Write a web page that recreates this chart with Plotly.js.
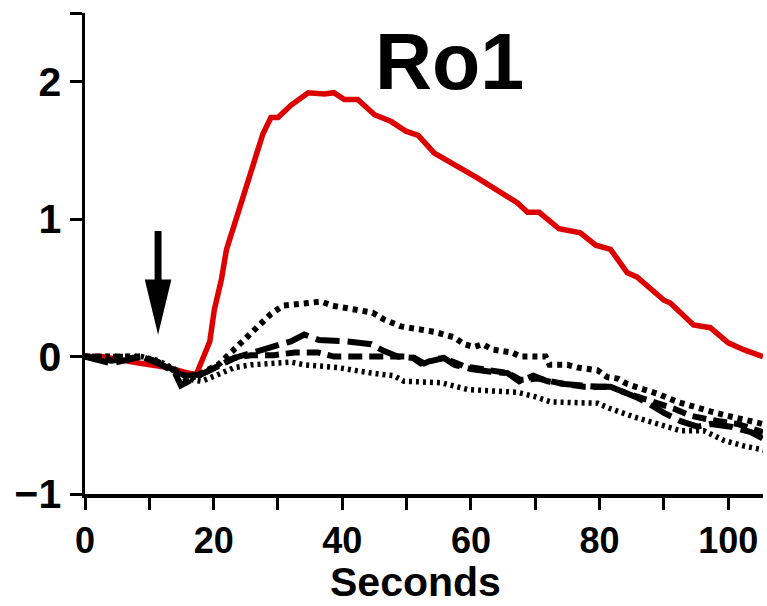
<!DOCTYPE html>
<html>
<head>
<meta charset="utf-8">
<script src="https://cdn.plot.ly/plotly-3.0.1.min.js"></script>
<style>html,body{margin:0;padding:0;background:#fff;}#chart{width:767px;height:606px;}</style>
</head>
<body>
<div id="chart"></div>
<script>
// Red trace (Ro1 response)
var redX = [0, 2.6, 8.8, 13, 16, 17.3, 19.4, 20.1, 21.2, 22.0, 24.3, 25.8, 27.65, 28.9, 30.0, 32.05, 34.7, 37.2, 38.7, 40.3, 42.4, 45.0, 47.6, 49.9, 51.8, 54.3, 61.0, 67.2, 68.8, 70.6, 73.7, 77.0, 79.4, 81.7, 84.3, 85.8, 90.0, 91.0, 94.6, 97.2, 100.0, 102.4, 105.4];
var redY = [0, 0, -0.05, -0.08, -0.12, -0.13, 0.11, 0.34, 0.56, 0.78, 1.12, 1.33, 1.62, 1.74, 1.74, 1.83, 1.92, 1.91, 1.92, 1.87, 1.87, 1.76, 1.71, 1.64, 1.61, 1.48, 1.30, 1.12, 1.05, 1.05, 0.93, 0.90, 0.81, 0.78, 0.61, 0.58, 0.41, 0.39, 0.23, 0.21, 0.10, 0.05, 0.0];

// Black dotted (large dots) – highest control
var aX = [0, 4.6, 8.8, 11.9, 14.2, 16.5, 18.9, 20.7, 22.7, 24.3, 25.8, 27.6, 28.9, 30.75, 32.5, 35.4, 36.7, 38.5, 41.6, 44.7, 46.5, 49.1, 54.3, 57.4, 58.9, 60.5, 61.8, 63.4, 66.4, 67.7, 71.6, 72.2, 75.0, 76.6, 79.7, 81.2, 82.8, 84.3, 86.9, 89.0, 92.1, 94.1, 97.3, 99.8, 103.5, 105.3];
var aY = [0, 0, 0, -0.06, -0.11, -0.16, -0.10, -0.06, 0.03, 0.10, 0.16, 0.24, 0.31, 0.37, 0.38, 0.39, 0.40, 0.37, 0.34, 0.32, 0.27, 0.22, 0.18, 0.14, 0.09, 0.07, 0.09, 0.05, 0.03, 0.0, 0.0, -0.06, -0.06, -0.08, -0.10, -0.15, -0.16, -0.20, -0.24, -0.27, -0.33, -0.36, -0.40, -0.43, -0.47, -0.49];

// Black long dash
var bX = [0, 4.1, 8.8, 11.4, 13.9, 14.9, 18.1, 20.7, 23.2, 26.9, 32.0, 34.1, 36.4, 40.8, 44.5, 46.5, 48.6, 51.2, 52.7, 54.3, 55.8, 57.4, 60.0, 63.1, 65.7, 67.5, 69.7, 71.9, 74.5, 79.7, 81.7, 83.8, 85.9, 87.9, 90.0, 92.6, 95.2, 97.3, 100.4, 103.5, 105.5];
var bY = [0, -0.05, 0, -0.05, -0.11, -0.21, -0.13, -0.07, -0.01, 0.04, 0.11, 0.16, 0.12, 0.11, 0.09, 0.04, 0.0, -0.01, -0.05, -0.02, -0.01, -0.06, -0.09, -0.11, -0.12, -0.18, -0.14, -0.18, -0.20, -0.22, -0.22, -0.26, -0.30, -0.35, -0.41, -0.47, -0.51, -0.49, -0.51, -0.55, -0.60];

// Black short dash
var cX = [0, 4.1, 8.8, 11.4, 13.9, 15.5, 18.1, 21.7, 23.2, 25.8, 29.4, 32.6, 36.2, 38.7, 46.5, 50.7, 52.2, 55.8, 58.9, 62.6, 65.7, 67.7, 70.4, 74.5, 77.6, 81.7, 83.8, 91.6, 94.1, 97.2, 101.4, 105.4];
var cY = [0, -0.03, 0, -0.04, -0.10, -0.14, -0.13, -0.05, -0.01, 0.01, 0.01, 0.03, 0.03, 0.0, 0.0, 0.0, -0.05, -0.01, -0.07, -0.10, -0.12, -0.17, -0.16, -0.20, -0.22, -0.22, -0.26, -0.38, -0.43, -0.46, -0.49, -0.55];

// Black fine dots – lowest control
var dX = [0, 4.6, 8.8, 11.4, 13.9, 15.5, 18.1, 20.7, 23.2, 25.8, 28.4, 32.0, 34.1, 39.3, 44.5, 48.1, 49.6, 55.3, 59.5, 67.2, 69.8, 72.4, 79.7, 81.7, 85.4, 89.0, 92.6, 96.2, 99.3, 102.4, 105.5];
var dY = [0, 0, 0, -0.03, -0.09, -0.16, -0.18, -0.13, -0.08, -0.06, -0.05, -0.04, -0.06, -0.08, -0.12, -0.14, -0.18, -0.19, -0.24, -0.26, -0.29, -0.33, -0.34, -0.38, -0.44, -0.49, -0.54, -0.54, -0.61, -0.65, -0.68];

// Axis ticks
var xTickVals = [0, 10, 20, 30, 40, 50, 60, 70, 80, 90, 100];
var xTickText = ['0', '', '20', '', '40', '', '60', '', '80', '', '100'];
var yTickVals = [-1, 0, 1, 2, 2.5];
var yTickText = ['\u22121', '0', '1', '2', ''];
var xAxisLabel = 'Seconds';
var chartTitle = 'Ro1';

// Stimulus arrow (data units)
var arrowX = 11.36, arrowTop = 0.914, arrowBase = 0.561, arrowTip = 0.159, shaftHalf = 0.54, headHalf = 2.07;

var FONT = 'Liberation Sans, Arial, Helvetica, sans-serif';

var traces = [
  {x: redX, y: redY, mode: 'lines', line: {color: '#dd0000', width: 5.5}, hoverinfo: 'skip'},
  {x: dX, y: dY, mode: 'lines', line: {color: '#000', width: 5.5, dash: '3px,4px'}, hoverinfo: 'skip'},
  {x: cX, y: cY, mode: 'lines', line: {color: '#000', width: 6, dash: '14px,7px'}, hoverinfo: 'skip'},
  {x: bX, y: bY, mode: 'lines', line: {color: '#000', width: 6, dash: '24px,8px'}, hoverinfo: 'skip'},
  {x: aX, y: aY, mode: 'lines', line: {color: '#000', width: 6, dash: '5px,5px'}, hoverinfo: 'skip'}
];

var arrowPath = 'M ' + (arrowX - shaftHalf) + ',' + arrowTop +
  ' L ' + (arrowX + shaftHalf) + ',' + arrowTop +
  ' L ' + (arrowX + shaftHalf) + ',' + arrowBase +
  ' L ' + (arrowX + headHalf) + ',' + arrowBase +
  ' L ' + arrowX + ',' + arrowTip +
  ' L ' + (arrowX - headHalf) + ',' + arrowBase +
  ' L ' + (arrowX - shaftHalf) + ',' + arrowBase + ' Z';

var layout = {
  width: 767, height: 606,
  margin: {l: 85, r: 4, t: 13, b: 112},
  paper_bgcolor: '#fff', plot_bgcolor: '#fff',
  showlegend: false,
  xaxis: {
    range: [0, 105.4], showgrid: false, zeroline: false,
    showline: true, linecolor: '#000', linewidth: 3.5,
    ticks: 'outside', ticklen: 12, tickwidth: 3, tickcolor: '#000',
    tickmode: 'array', tickvals: xTickVals, ticktext: xTickText,
    tickfont: {family: FONT, size: 36, weight: 'bold', color: '#000'}
  },
  yaxis: {
    range: [-1, 2.5], showgrid: false, zeroline: false,
    showline: true, linecolor: '#000', linewidth: 3.5,
    ticks: 'outside', ticklen: 12, tickwidth: 3, tickcolor: '#000',
    tickmode: 'array', tickvals: yTickVals, ticktext: yTickText,
    tickfont: {family: FONT, size: 41, weight: 'bold', color: '#000'}
  },
  shapes: [
    {type: 'path', xref: 'x', yref: 'y', path: arrowPath, fillcolor: '#000', line: {width: 0}}
  ],
  annotations: [
    {text: chartTitle, xref: 'paper', yref: 'paper', x: 0.537, y: 0.90, xanchor: 'center', yanchor: 'middle',
     showarrow: false, font: {family: FONT, size: 79, weight: 'bold', color: '#000'}},
    {text: xAxisLabel, xref: 'paper', yref: 'paper', x: 0.487, y: -0.182, xanchor: 'center', yanchor: 'middle',
     showarrow: false, font: {family: FONT, size: 41, weight: 'bold', color: '#000'}}
  ]
};

Plotly.newPlot('chart', traces, layout, {displayModeBar: false, staticPlot: true});
</script>
</body>
</html>
